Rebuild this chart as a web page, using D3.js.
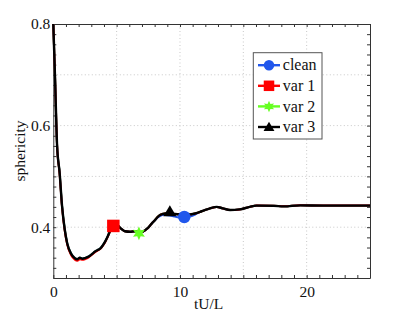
<!DOCTYPE html>
<html>
<head>
<meta charset="utf-8">
<script src="https://cdn.jsdelivr.net/npm/d3@7"></script>
<style>
  body { margin: 0; background: #fff; }
  svg text { font-family: "Liberation Serif", "Times New Roman", "Nimbus Roman", serif !important; fill: #111; }
</style>
</head>
<body>
<svg id="chart" width="409" height="315"></svg>
<script>
// time axis samples (tU/L)
const tValues = [0, 0.13, 0.3, 0.5, 0.69, 0.9, 1.1, 1.4, 1.7, 1.9, 2.1, 2.3, 2.5, 2.7, 2.9, 3.1, 3.3, 3.5, 3.7, 3.9,
  4.1, 4.3, 4.5, 4.7, 4.87, 5.05, 5.26, 5.46, 5.66, 6.05, 6.45, 6.84, 7.05, 7.24, 7.45, 7.63, 7.83, 8.03, 8.23, 8.42,
  8.62, 8.82, 9.2, 9.6, 10.0, 10.4, 10.8, 11.2, 11.58, 12.0, 12.37, 12.9, 13.4, 13.95, 14.7, 15.5, 16.05, 17.4, 18.2,
  19.5, 21.3, 23.2, 25];

const var3Values = [0.8, 0.70, 0.56, 0.507, 0.442, 0.396, 0.368, 0.348, 0.339, 0.337, 0.340, 0.338, 0.339, 0.341, 0.344, 0.348, 0.352, 0.355, 0.358, 0.364,
  0.372, 0.382, 0.394, 0.404, 0.408, 0.405, 0.399, 0.395, 0.392, 0.391, 0.392, 0.390, 0.391, 0.394, 0.398, 0.403, 0.409, 0.414, 0.420, 0.424,
  0.426, 0.427, 0.427, 0.426, 0.425, 0.424, 0.425, 0.427, 0.430, 0.434, 0.437, 0.440, 0.437, 0.434, 0.435, 0.440, 0.4425, 0.442, 0.441,
  0.443, 0.4425, 0.4425, 0.4425];

const cleanValues = [0.8, 0.70, 0.56, 0.507, 0.442, 0.396, 0.368, 0.348, 0.339, 0.337, 0.340, 0.338, 0.339, 0.341, 0.344, 0.348, 0.352, 0.355, 0.358, 0.364,
  0.372, 0.382, 0.394, 0.404, 0.408, 0.405, 0.399, 0.395, 0.392, 0.391, 0.392, 0.390, 0.391, 0.394, 0.398, 0.403, 0.409, 0.414, 0.419, 0.422,
  0.424, 0.424, 0.423, 0.421, 0.419, 0.419, 0.421, 0.425, 0.430, 0.434, 0.437, 0.440, 0.437, 0.434, 0.435, 0.440, 0.4425, 0.442, 0.441,
  0.443, 0.4425, 0.4425, 0.4425];

const var1Values = [0.8, 0.70, 0.56, 0.505, 0.440, 0.394, 0.366, 0.345, 0.336, 0.334, 0.337, 0.336, 0.337, 0.339, 0.343, 0.347, 0.351, 0.354, 0.357, 0.363,
  0.371, 0.381, 0.393, 0.403, 0.407, 0.405, 0.399, 0.395, 0.392, 0.391, 0.392, 0.390, 0.391, 0.394, 0.398, 0.403, 0.409, 0.414, 0.420, 0.424,
  0.426, 0.427, 0.427, 0.426, 0.425, 0.424, 0.425, 0.427, 0.430, 0.434, 0.437, 0.440, 0.437, 0.434, 0.435, 0.440, 0.4425, 0.442, 0.441,
  0.443, 0.4425, 0.4425, 0.4425];

const var2Values = var3Values;

const seriesNames = ["clean", "var 1", "var 2", "var 3"];
const seriesColors = ["#2157ec", "#ff0000", "#66ff22", "#000000"];
const markerT = [10.34, 4.74, 6.76, 9.2];
const markerS = [0.42, 0.4025, 0.388, 0.431];

const xTickLabels = [0, 10, 20];
const yTickLabels = [0.4, 0.6, 0.8];
const xGrid = [5, 10, 15, 20];
const yGrid = [0.4, 0.5, 0.6, 0.7];

const serif = '"Liberation Serif", "Times New Roman", "Nimbus Roman", serif';

const margin = { top: 24, right: 39, bottom: 37, left: 53.3 },
    width = 409 - margin.left - margin.right,
    height = 315 - margin.top - margin.bottom;

const svg = d3.select("#chart")
    .append("g")
    .attr("transform", `translate(${margin.left},${margin.top})`);

const x = d3.scaleLinear().domain([0, 25]).range([0, width]);
const y = d3.scaleLinear().domain([0.3, 0.8]).range([height, 0]);

// dotted grid
svg.selectAll(".gx").data(xGrid).enter().append("line")
    .attr("x1", d => x(d)).attr("x2", d => x(d))
    .attr("y1", 0).attr("y2", height)
    .attr("stroke", "#c8c8c8").attr("stroke-dasharray", "1,2.5");
svg.selectAll(".gy").data(yGrid).enter().append("line")
    .attr("x1", 0).attr("x2", width)
    .attr("y1", d => y(d)).attr("y2", d => y(d))
    .attr("stroke", "#c8c8c8").attr("stroke-dasharray", "1,2.5");

// axes with inward ticks on all four sides
const xTicks = d3.range(0, 26, 1);
const yTicks = d3.range(0.3, 0.8001, 0.02).map(d => +d.toFixed(2));

function styleAxis(g) {
    g.attr("font-family", serif).attr("font-size", 15.5);
    g.selectAll("path").attr("stroke", "#333");
    g.selectAll("line").attr("stroke", "#333");
    g.selectAll("text").attr("fill", "#111");
}

svg.append("g")
    .attr("transform", `translate(0,${height})`)
    .call(d3.axisBottom(x).tickValues(xTicks).tickSize(-3).tickSizeOuter(0).tickPadding(8)
        .tickFormat(d => xTickLabels.includes(d) ? d : ""))
    .call(styleAxis);
svg.append("g")
    .call(d3.axisTop(x).tickValues(xTicks).tickSize(-3).tickSizeOuter(0).tickFormat(""))
    .call(styleAxis);
svg.append("g")
    .call(d3.axisLeft(y).tickValues(yTicks).tickSize(-3).tickSizeOuter(0).tickPadding(3)
        .tickFormat(d => yTickLabels.some(v => Math.abs(v - d) < 1e-6) ? d3.format(".1f")(d) : ""))
    .call(styleAxis);
svg.append("g")
    .attr("transform", `translate(${width},0)`)
    .call(d3.axisRight(y).tickValues(yTicks).tickSize(-3).tickSizeOuter(0).tickFormat(""))
    .call(styleAxis);

// curves: green and blue underneath, red next, black on top
const allSeries = [cleanValues, var1Values, var2Values, var3Values];
const drawOrder = [2, 0, 1, 3];
const line = d3.line()
    .x((d, i) => x(tValues[i]))
    .y(d => y(d))
    .curve(d3.curveMonotoneX);

drawOrder.forEach(i => {
    svg.append("path")
        .datum(allSeries[i])
        .attr("fill", "none")
        .attr("stroke", seriesColors[i])
        .attr("stroke-width", i === 3 ? 2.4 : 2)
        .attr("d", line);
});

// marker shapes
function hexagram(r) {
    const pts = [];
    for (let k = 0; k < 12; k++) {
        const a = -Math.PI / 2 + k * Math.PI / 6;
        const rr = k % 2 === 0 ? r : r * 0.5;
        pts.push([rr * Math.cos(a), rr * Math.sin(a)]);
    }
    return "M" + pts.map(p => p.join(",")).join("L") + "Z";
}

function drawMarker(g, i, cx, cy, s) {
    const c = seriesColors[i];
    if (i === 0) {
        g.append("circle").attr("cx", cx).attr("cy", cy).attr("r", s * 0.5).attr("fill", c);
    } else if (i === 1) {
        g.append("rect").attr("x", cx - s / 2).attr("y", cy - s / 2).attr("width", s).attr("height", s).attr("fill", c);
    } else if (i === 2) {
        g.append("path").attr("transform", `translate(${cx},${cy})`).attr("d", hexagram(s * 0.55)).attr("fill", c);
    } else {
        g.append("path").attr("transform", `translate(${cx},${cy})`)
            .attr("d", `M0,${-s * 0.5}L${s * 0.52},${s * 0.38}L${-s * 0.52},${s * 0.38}Z`).attr("fill", c);
    }
}

seriesNames.forEach((n, i) => {
    drawMarker(svg, i, x(markerT[i]), y(markerS[i]), 12.5);
});

// legend
const legend = svg.append("g").attr("transform", `translate(${253.3 - margin.left},${52.7 - margin.top})`);
legend.append("rect")
    .attr("width", 68.7).attr("height", 86.3)
    .attr("fill", "#fff").attr("stroke", "#555").attr("stroke-width", 1);
seriesNames.forEach((n, i) => {
    const ly = 12.5 + i * 20.6;
    legend.append("line")
        .attr("x1", 4.7).attr("x2", 26.7).attr("y1", ly).attr("y2", ly)
        .attr("stroke", seriesColors[i]).attr("stroke-width", 2.4);
    drawMarker(legend, i, 15.7, ly, 10.5);
    legend.append("text")
        .attr("x", 29.5).attr("y", ly).attr("dy", "0.33em")
        .attr("font-family", serif)
        .attr("font-size", 16)
        .text(n);
});

// axis labels
svg.append("text")
    .attr("text-anchor", "middle")
    .attr("x", x(12.5) - 3)
    .attr("y", height + 31)
    .attr("font-family", serif)
    .attr("font-size", 15.5)
    .text("tU/L");

svg.append("text")
    .attr("text-anchor", "middle")
    .attr("transform", "rotate(-90)")
    .attr("x", -(151 - margin.top))
    .attr("y", 25 - margin.left)
    .attr("font-family", serif)
    .attr("font-size", 15.5)
    .text("sphericity");
</script>
</body>
</html>
